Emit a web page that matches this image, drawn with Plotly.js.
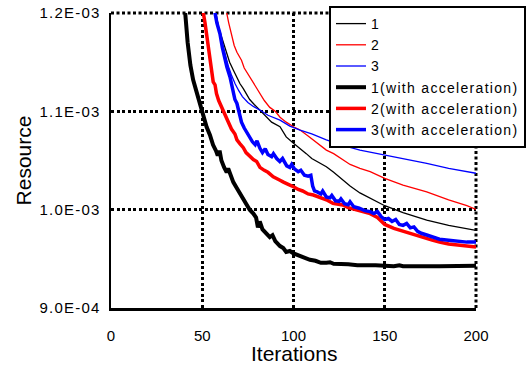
<!DOCTYPE html>
<html>
<head>
<meta charset="utf-8">
<script src="https://cdn.plot.ly/plotly-3.0.1.min.js"></script>
<style>
html,body{margin:0;padding:0;background:#fff;}
#chart{width:532px;height:365px;}
.legendtext{letter-spacing:1.3px;}
.ytick text{letter-spacing:1.2px;}
</style>
</head>
<body>
<div id="chart"></div>
<script>
// values in units of 1E-03
const seriesNames = ["1", "2", "3", "1(with acceleration)", "2(with acceleration)", "3(with acceleration)"];

const x1 = [55, 57.5, 59, 60.2, 61.5, 63, 65, 67, 68.5, 70.7, 72.5, 74, 76, 78.5, 81.6, 85, 88, 92.6, 96, 100, 103.6, 107, 110, 114.5, 118, 122, 126, 131, 136.4, 142, 150, 160, 173, 185, 200];
const y1 = [1.26, 1.2, 1.185, 1.178, 1.17, 1.16, 1.15, 1.142, 1.136, 1.128, 1.123, 1.118, 1.112, 1.107, 1.1013, 1.094, 1.089, 1.0843, 1.074, 1.0675, 1.0625, 1.057, 1.052, 1.047, 1.0436, 1.038, 1.032, 1.024, 1.017, 1.012, 1.004, 0.997, 0.9894, 0.984, 0.979];

const x2 = [62.5, 63.4, 64.5, 66, 67.5, 69, 71.5, 73, 75, 78, 81.6, 84, 87, 90, 92.6, 96, 100, 103.6, 108, 113, 118, 122, 127, 131, 136.4, 142, 150, 160, 173, 185, 195, 200];
const y2 = [1.23, 1.2, 1.19, 1.179, 1.167, 1.16, 1.152, 1.144, 1.138, 1.128, 1.117, 1.111, 1.104, 1.1, 1.094, 1.089, 1.0843, 1.081, 1.075, 1.0675, 1.0606, 1.057, 1.051, 1.046, 1.042, 1.0386, 1.0318, 1.025, 1.0182, 1.01, 1.004, 1.0003];

const x3 = [56, 57.2, 59, 61, 62.5, 64.3, 66, 68, 70, 72, 75, 78, 81.6, 86, 92.6, 98, 103.6, 110, 118, 126, 136.4, 150, 160, 173, 185, 200];
const y3 = [1.26, 1.2, 1.183, 1.168, 1.157, 1.146, 1.137, 1.128, 1.121, 1.115, 1.109, 1.105, 1.1013, 1.096, 1.0911, 1.085, 1.081, 1.077, 1.071, 1.066, 1.0606, 1.0556, 1.052, 1.047, 1.042, 1.037];

const x1a = [38, 40.5, 42, 43.5, 45, 47, 48.8, 50.6, 52.4, 54.2, 55.9, 57.5, 58.5, 59.5, 60.5, 62, 63.4, 64.2, 65.5, 67, 68.9, 71, 73, 74.4, 76, 78, 79.5, 80.5, 81.5, 83, 85.3, 87, 88.5, 90, 92.6, 94.4, 96, 98, 100, 103, 106, 109, 112, 115, 118, 120, 122, 126, 130, 135, 140, 145, 150, 155, 158, 160, 165, 170, 175, 180, 185, 190, 195, 200];
const y1a = [1.26, 1.2, 1.17, 1.147, 1.132, 1.119, 1.108, 1.094, 1.084, 1.076, 1.066, 1.06, 1.055, 1.06, 1.05, 1.043, 1.038, 1.042, 1.034, 1.028, 1.022, 1.015, 1.009, 1.005, 1.0, 0.996, 0.992, 0.982, 0.988, 0.98, 0.976, 0.972, 0.974, 0.968, 0.963, 0.961, 0.957, 0.958, 0.9555, 0.953, 0.951, 0.949, 0.948, 0.946, 0.946, 0.9465, 0.945, 0.945, 0.9445, 0.9435, 0.944, 0.9435, 0.943, 0.9425, 0.9435, 0.9425, 0.9425, 0.943, 0.9425, 0.9425, 0.9425, 0.943, 0.9425, 0.943];

const x2a = [49, 50.6, 51.5, 52.4, 53.5, 55.2, 56, 57, 57.8, 59, 60.6, 62, 63.4, 65, 66, 67.9, 69, 70.7, 72.5, 74, 76.2, 78, 79.8, 81.6, 84, 86, 88.9, 90.8, 92.6, 94.5, 96.3, 98, 100, 102.6, 105, 108, 110.9, 114, 118, 121.6, 124, 127, 130, 135, 142, 146, 150, 155, 160, 165, 170, 173, 176, 180, 185, 190, 195, 200];
const y2a = [1.26, 1.2, 1.19, 1.179, 1.16, 1.145, 1.13, 1.127, 1.118, 1.111, 1.104, 1.098, 1.094, 1.087, 1.082, 1.077, 1.071, 1.067, 1.063, 1.058, 1.054, 1.051, 1.049, 1.043, 1.04, 1.038, 1.0335, 1.032, 1.03, 1.028, 1.0268, 1.025, 1.0233, 1.0205, 1.019, 1.016, 1.0149, 1.013, 1.01, 1.0064, 1.006, 1.0047, 1.002, 0.9995, 0.996, 0.992, 0.985, 0.981, 0.978, 0.975, 0.972, 0.9708, 0.969, 0.967, 0.965, 0.964, 0.963, 0.962];

const x3a = [56, 57, 58, 59.7, 61, 62.5, 63.5, 65.2, 66.5, 67.9, 69, 70.2, 71.5, 73, 74.5, 76.2, 77.5, 79, 80, 81.6, 83, 84.5, 86, 88, 89, 90.8, 92.5, 94, 96.3, 98, 99, 100.5, 102.6, 104, 106, 108, 109.5, 110.5, 111.5, 113, 115, 116, 118, 120, 121, 123, 125, 126, 128, 130, 131, 133, 136, 139, 142, 144, 146, 148, 150, 152, 154, 156, 158, 160, 162, 164, 166, 168, 170, 173, 176, 180, 185, 190, 195, 200];
const y3a = [1.26, 1.2, 1.19, 1.179, 1.165, 1.152, 1.145, 1.135, 1.125, 1.112, 1.108, 1.097, 1.089, 1.083, 1.078, 1.074, 1.069, 1.066, 1.07, 1.0624, 1.058, 1.062, 1.056, 1.054, 1.057, 1.052, 1.049, 1.052, 1.0445, 1.043, 1.046, 1.0415, 1.0386, 1.04, 1.035, 1.034, 1.035, 1.024, 1.019, 1.018, 1.016, 1.019, 1.013, 1.012, 1.0145, 1.009, 1.0085, 1.011, 1.006, 1.005, 1.008, 1.003, 1.0015, 0.999, 0.998, 0.996, 0.998, 0.993, 0.99, 0.991, 0.988, 0.99, 0.985, 0.984, 0.986, 0.9815, 0.9825, 0.978, 0.976, 0.9742, 0.972, 0.97, 0.969, 0.968, 0.967, 0.967];

const yTickVals = [0.9, 1.0, 1.1, 1.2];
const yTickText = ["9.0E-04", "1.0E-03", "1.1E-03", "1.2E-03"];
const xTickVals = [0, 50, 100, 150, 200];
const xTickText = ["0", "50", "100", "150", "200"];
const xTitle = "Iterations";
const yTitle = "Resource";

const scale = v => v * 1e-3;
const xs = [x1, x2, x3, x1a, x2a, x3a];
const ys = [y1, y2, y3, y1a, y2a, y3a];
const colors = ["#000000", "#ff0000", "#0000ff", "#000000", "#ff0000", "#0000ff"];
const widths = [1.3, 1.3, 1.3, 4, 3.5, 3.5];

const traces = seriesNames.map((n, i) => ({
  type: "scatter", mode: "lines", name: n,
  x: xs[i], y: ys[i].map(scale),
  line: {color: colors[i], width: widths[i]}
}));

const FONT = "Arial, 'Liberation Sans', sans-serif";
const GRIDDASH = "3px,2.5px";
const layout = {
  width: 532, height: 365,
  margin: {l: 111, r: 56, t: 13, b: 57, autoexpand: false},
  paper_bgcolor: "#ffffff", plot_bgcolor: "#ffffff",
  font: {family: FONT, color: "#000000", size: 15},
  showlegend: true,
  legend: {
    xref: "container", yref: "container",
    x: 329 / 532, y: 1 - 6 / 365, xanchor: "left", yanchor: "top",
    bgcolor: "#ffffff", bordercolor: "#000000", borderwidth: 2,
    font: {family: FONT, size: 14, color: "#000000"},
    tracegroupgap: 0
  },
  shapes: [
    {type: "line", xref: "paper", yref: "paper", x0: 1, x1: 1, y0: 0, y1: 1, layer: "below",
     line: {color: "#000000", width: 3, dash: GRIDDASH}},
    {type: "line", xref: "paper", yref: "paper", x0: 0, x1: 1, y0: 1, y1: 1, layer: "below",
     line: {color: "#000000", width: 3, dash: GRIDDASH}}
  ],
  annotations: [
    {text: xTitle, xref: "paper", yref: "paper", x: 0.5, y: (308 - 353) / 295,
     xanchor: "center", yanchor: "middle", showarrow: false,
     font: {family: FONT, size: 21, color: "#000000"}}
  ],
  xaxis: {
    range: [0, 200], tickvals: xTickVals, ticktext: xTickText,
    showline: true, linecolor: "#000000", linewidth: 2.5,
    showgrid: true, gridcolor: "#000000", gridwidth: 3, griddash: GRIDDASH,
    zeroline: false, ticks: "", ticklabelstandoff: 12,
    tickfont: {family: FONT, size: 15}
  },
  yaxis: {
    range: [scale(0.9), scale(1.2)], tickvals: yTickVals.map(scale), ticktext: yTickText,
    showline: true, linecolor: "#000000", linewidth: 2.5,
    showgrid: true, gridcolor: "#000000", gridwidth: 3, griddash: GRIDDASH,
    zeroline: false, ticks: "", ticklabelstandoff: 5,
    tickfont: {family: FONT, size: 15},
    title: {text: yTitle, font: {family: FONT, size: 21}, standoff: 2}
  }
};

Plotly.newPlot("chart", traces, layout, {displayModeBar: false, staticPlot: true});
</script>
</body>
</html>
